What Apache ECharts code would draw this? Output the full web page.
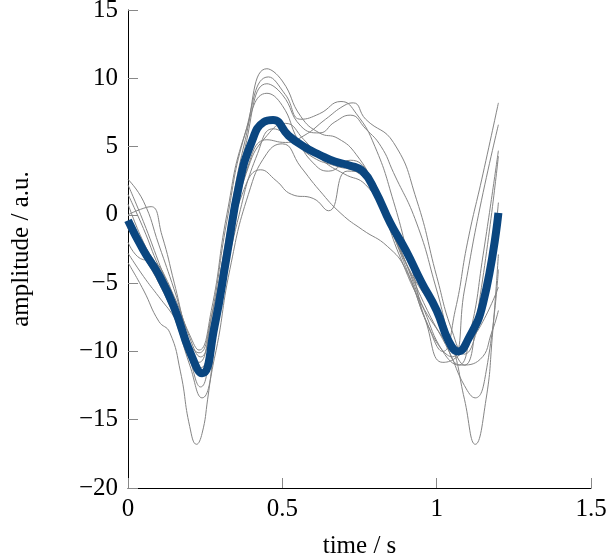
<!DOCTYPE html>
<html>
<head>
<meta charset="utf-8">
<script src="https://cdn.jsdelivr.net/npm/echarts@6/dist/echarts.min.js"></script>
<style>html,body{margin:0;padding:0;background:#fff}#c{width:608px;height:560px}</style>
</head>
<body>
<div id="c"></div>
<script>
// ---- data (time in s, amplitude in a.u.) ----
const trial1 = [[0,2.6],[0.05,1.0],[0.1,-2.2],[0.15,-5.5],[0.2,-9.0],[0.235,-10.4],[0.27,-8.0],[0.32,-1.5],[0.38,5.5],[0.45,10.7],[0.5,9.8],[0.56,7.2],[0.62,6.0],[0.68,5.6],[0.74,4.4],[0.8,2.0],[0.86,-1.5],[0.92,-5.0],[0.97,-8.0],[1.02,-10.0],[1.06,-7.0],[1.1,-2.0],[1.15,3.0],[1.2,8.2]];
const trial2 = [[0,0.0],[0.04,0.4],[0.075,0.6],[0.11,-1.5],[0.15,-5.0],[0.2,-9.5],[0.23,-10.8],[0.27,-7.5],[0.32,-0.5],[0.38,6.0],[0.455,10.1],[0.51,8.8],[0.56,7.0],[0.62,7.4],[0.69,8.3],[0.74,7.4],[0.8,5.0],[0.86,1.0],[0.92,-4.0],[0.98,-8.5],[1.05,-10.4],[1.09,-5.5],[1.14,0.5],[1.2,6.6]];
const trial3 = [[0,-3.5],[0.05,-5.5],[0.1,-7.8],[0.135,-8.6],[0.17,-11.5],[0.2,-15.5],[0.222,-16.8],[0.24,-16.0],[0.258,-13.5],[0.3,-6.5],[0.36,0.0],[0.42,4.5],[0.47,6.3],[0.53,5.5],[0.6,4.2],[0.67,3.6],[0.75,3.0],[0.8,1.5],[0.85,-1.0],[0.9,-3.5],[0.95,-5.5],[1.0,-7.0],[1.05,-9.5],[1.09,-13.5],[1.125,-16.8],[1.16,-13.5],[1.18,-9.0],[1.2,-2.9]];
const trial4 = [[0,2.2],[0.05,-0.5],[0.1,-3.5],[0.15,-6.5],[0.2,-10.5],[0.235,-12.6],[0.27,-9.5],[0.32,-2.5],[0.38,5.0],[0.45,9.6],[0.5,8.8],[0.56,6.5],[0.62,6.0],[0.67,6.8],[0.72,7.3],[0.77,6.3],[0.82,5.0],[0.86,3.1],[0.935,-0.6],[1.0,-5.5],[1.05,-9.5],[1.09,-11.0],[1.13,-7.5],[1.2,4.3]];
const trial5 = [[0,1.5],[0.05,-1.0],[0.1,-3.8],[0.15,-6.0],[0.2,-8.8],[0.23,-9.9],[0.27,-7.0],[0.32,0.0],[0.38,6.0],[0.45,8.9],[0.5,8.0],[0.55,5.5],[0.6,3.8],[0.65,3.2],[0.72,4.0],[0.78,3.0],[0.84,0.0],[0.9,-3.5],[0.96,-7.0],[1.02,-10.0],[1.07,-11.0],[1.11,-8.5],[1.15,-3.0],[1.2,4.7]];
const trial6 = [[0,0.8],[0.05,-2.0],[0.1,-4.0],[0.15,-6.5],[0.2,-10.0],[0.24,-11.8],[0.28,-9.0],[0.33,-2.0],[0.39,3.5],[0.45,5.8],[0.51,6.7],[0.57,5.5],[0.63,4.0],[0.7,3.0],[0.77,2.2],[0.83,0.0],[0.9,-3.5],[0.97,-7.0],[1.04,-10.0],[1.09,-12.5],[1.125,-13.4],[1.16,-11.5],[1.2,-4.0]];
const trial7 = [[0,-1.0],[0.05,-3.0],[0.1,-5.0],[0.15,-7.5],[0.2,-11.0],[0.24,-13.4],[0.28,-10.5],[0.33,-4.0],[0.39,1.5],[0.45,4.5],[0.5,5.2],[0.56,3.5],[0.62,1.8],[0.69,0.1],[0.76,-1.1],[0.84,-2.3],[0.9,-4.0],[0.96,-7.5],[1.02,-10.8],[1.06,-10.5],[1.1,-9.5],[1.15,-7.8],[1.2,-5.3]];
const trial8 = [[0,-2.0],[0.04,-3.2],[0.08,-3.4],[0.12,-4.5],[0.16,-7.0],[0.2,-10.0],[0.235,-11.2],[0.27,-8.5],[0.32,-3.0],[0.37,1.5],[0.43,3.3],[0.48,2.5],[0.53,1.5],[0.6,1.2],[0.65,0.3],[0.71,3.2],[0.77,3.0],[0.83,0.0],[0.88,-3.0],[0.95,-6.5],[1.02,-9.0],[1.08,-11.0],[1.14,-10.6],[1.18,-8.5],[1.2,-7.0]];
const trial9 = [[0,-2.8],[0.05,-4.5],[0.1,-6.0],[0.15,-7.5],[0.2,-9.5],[0.23,-10.1],[0.27,-7.5],[0.32,-2.0],[0.38,3.0],[0.45,5.5],[0.51,5.3],[0.57,5.8],[0.64,7.0],[0.7,8.0],[0.73,8.2],[0.77,7.0],[0.86,5.3],[0.935,1.1],[1.0,-4.5],[1.05,-8.5],[1.09,-10.2],[1.13,-8.5],[1.17,-4.5],[1.2,0.9]];
const meanCurve = [[0,-0.4],[0.05,-2.6],[0.1,-4.4],[0.15,-6.8],[0.2,-10.0],[0.24,-11.6],[0.28,-8.2],[0.32,-3.0],[0.36,2.2],[0.4,5.3],[0.44,6.8],[0.47,6.95],[0.52,5.8],[0.57,5.0],[0.62,4.4],[0.67,3.9],[0.72,3.6],[0.76,3.2],[0.8,1.8],[0.85,-0.6],[0.9,-2.6],[0.95,-4.9],[1.0,-7.0],[1.04,-9.3],[1.07,-10.0],[1.1,-9.2],[1.15,-6.5],[1.2,0.15]];
const trials = [trial1, trial2, trial3, trial4, trial5, trial6, trial7, trial8, trial9];
const xTicks = [0, 0.5, 1, 1.5];
const yTicks = [-20, -15, -10, -5, 0, 5, 10, 15];

const FONT = 'Liberation Serif';
const chart = echarts.init(document.getElementById('c'), null, {renderer: 'canvas'});
const grayStyle = {color: '#858585', width: 1};
const series = trials.map((d, i) => ({
  type: 'line', name: 'trial ' + (i + 1), data: d, symbol: 'none', smooth: 0.5,
  lineStyle: grayStyle, itemStyle: {color: '#858585'}, z: 2
}));
series.push({
  type: 'line', name: 'mean', data: meanCurve, symbol: 'none', smooth: 0.5,
  lineStyle: {color: '#0a4680', width: 8, cap: 'butt', join: 'round'}, itemStyle: {color: '#0a4680'}, z: 3
});

chart.setOption({
  animation: false,
  backgroundColor: '#fff',
  grid: {left: 128, right: 17, top: 10, bottom: 72, containLabel: false, outerBoundsMode: 'none'},
  xAxis: {
    type: 'value', min: xTicks[0], max: xTicks[xTicks.length - 1], interval: 0.5,
    name: 'time / s', nameLocation: 'middle', nameGap: 46,
    nameTextStyle: {fontFamily: FONT, fontSize: 25, color: '#000'},
    axisLine: {show: true, onZero: false, lineStyle: {color: '#000', width: 1}},
    axisTick: {show: true, inside: true, length: 10, lineStyle: {color: '#888', width: 1}},
    axisLabel: {fontFamily: FONT, fontSize: 25, color: '#000', margin: 9,
      formatter: v => String(v)},
    splitLine: {show: false}
  },
  yAxis: {
    type: 'value', min: yTicks[0], max: yTicks[yTicks.length - 1], interval: 5,
    name: 'amplitude / a.u.', nameLocation: 'middle', nameGap: 94, nameRotate: 90,
    nameTextStyle: {fontFamily: FONT, fontSize: 25, color: '#000'},
    axisLine: {show: true, onZero: false, lineStyle: {color: '#000', width: 1}},
    axisTick: {show: true, inside: true, length: 10, lineStyle: {color: '#888', width: 1}},
    axisLabel: {fontFamily: FONT, fontSize: 25, color: '#000', margin: 10,
      formatter: v => (v < 0 ? '\u2212' + Math.abs(v) : String(v))},
    splitLine: {show: false}
  },
  series: series
});
</script>
</body>
</html>
